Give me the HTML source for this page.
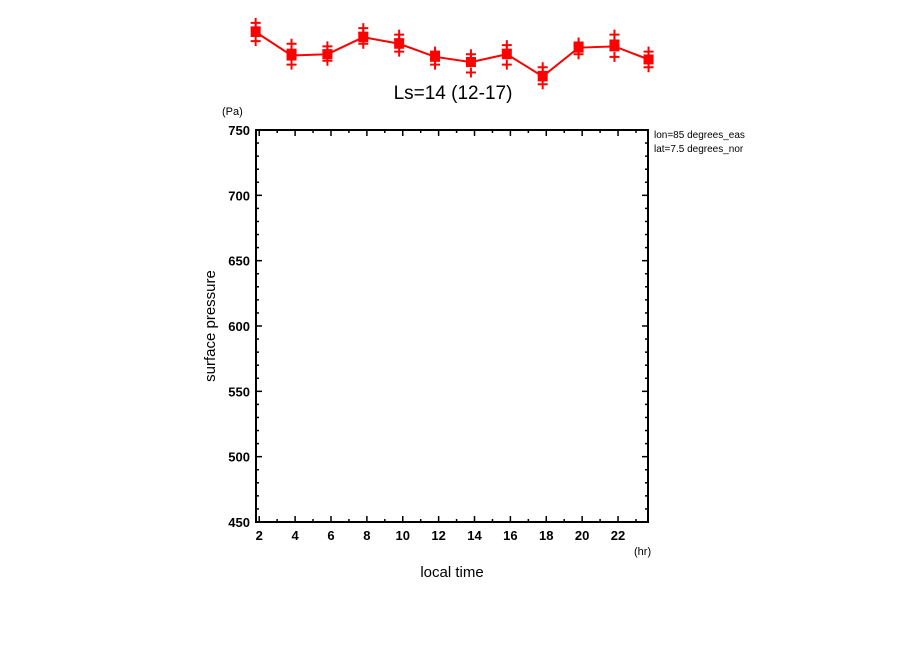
<!DOCTYPE html>
<html><head><meta charset="utf-8"><style>
html,body{margin:0;padding:0;background:#fff;}
svg{display:block;font-family:"Liberation Sans",sans-serif;}
</style></head><body>
<svg id="chart" width="904" height="654" viewBox="0 0 904 654">
<rect width="904" height="654" fill="#fff"/>
<text x="453" y="99" font-size="19" text-anchor="middle">Ls=14 (12-17)</text>
<text x="222" y="115" font-size="11">(Pa)</text>
<text x="634" y="555" font-size="11">(hr)</text>
<text x="452" y="577" font-size="15" text-anchor="middle">local time</text>
<text transform="translate(215,326) rotate(-90)" font-size="15" text-anchor="middle">surface pressure</text>
<text x="654" y="138" font-size="10">lon=85 degrees_eas</text>
<text x="654" y="152" font-size="10">lat=7.5 degrees_nor</text>
<g id="axes"></g>
<g id="series"></g>
</svg>
<script>
const hours = [1.8, 3.8, 5.8, 7.8, 9.8, 11.8, 13.8, 15.8, 17.8, 19.8, 21.8, 23.7];
const meanValues = [825, 807, 808, 821, 816, 806, 802, 808, 791, 813, 814, 804];
const upperValues = [832, 816, 814, 828, 823, 810, 808, 815, 798, 817, 823, 810];
const lowerValues = [818, 800, 803, 816, 810, 800, 794, 800, 785, 808, 806, 798];
const xTicks = [2, 4, 6, 8, 10, 12, 14, 16, 18, 20, 22];
const yTicks = [450, 500, 550, 600, 650, 700, 750];

const L = 256, R = 648, T = 130, B = 522;
const xMin = 1.82, xMax = 23.67, yMin = 450, yMax = 750;
const X = v => L + (v - xMin) / (xMax - xMin) * (R - L);
const Y = v => B - (v - yMin) / (yMax - yMin) * (B - T);
const NS = "http://www.w3.org/2000/svg";
function mk(tag, attrs, parent) {
  const e = document.createElementNS(NS, tag);
  for (const k in attrs) e.setAttribute(k, attrs[k]);
  parent.appendChild(e);
  return e;
}
const axes = document.getElementById('axes');
const frame = mk('rect', {x: L, y: T, width: R - L, height: B - T, fill: 'none', stroke: '#000', 'stroke-width': 2}, axes);


// minor y ticks
for (let v = yMin; v <= yMax; v += 10) {
  const major = v % 50 === 0;
  const len = major ? 6 : 3;
  const t1 = mk('line', {x1: L, x2: L + len, y1: Y(v), y2: Y(v), stroke: '#000', 'stroke-width': 1.5}, axes);
  
  
  const t2 = mk('line', {x1: R, x2: R - len, y1: Y(v), y2: Y(v), stroke: '#000', 'stroke-width': 1.5}, axes);
  
  
}
yTicks.forEach(v => {
  const t = mk('text', {x: L - 6, y: Y(v) + 5, 'font-size': 13, 'font-weight': 'bold', 'text-anchor': 'end'}, axes);
  t.textContent = v;
  
  
});
for (let h = 2; h <= 23; h += 1) {
  const major = h % 2 === 0;
  const len = major ? 6 : 3;
  const t1 = mk('line', {x1: X(h), x2: X(h), y1: B, y2: B - len, stroke: '#000', 'stroke-width': 1.5}, axes);
  
  
  const t2 = mk('line', {x1: X(h), x2: X(h), y1: T, y2: T + len, stroke: '#000', 'stroke-width': 1.5}, axes);
  
  
}
xTicks.forEach(h => {
  const t = mk('text', {x: X(h), y: B + 18, 'font-size': 13, 'font-weight': 'bold', 'text-anchor': 'middle'}, axes);
  t.textContent = h;
  
  
});
const series = document.getElementById('series');
const line = mk('polyline', {points: hours.map((h, i) => X(h) + ',' + Y(meanValues[i])).join(' '), fill: 'none', stroke: '#f00', 'stroke-width': 2}, series);


function cross(x, y) {
  const g = mk('path', {d: `M${x-5},${y}H${x+5}M${x},${y-5}V${y+5}`, stroke: '#f00', 'stroke-width': 2}, series);
  
  
}
hours.forEach((h, i) => {
  const x = X(h);
  cross(x, Y(upperValues[i]));
  cross(x, Y(lowerValues[i]));
  cross(x, Y((upperValues[i] + meanValues[i]) / 2));
  const s = mk('rect', {x: x - 5, y: Y(meanValues[i]) - 5, width: 10, height: 10, fill: '#f00'}, series);
  
  
});
</script>
</body></html>
